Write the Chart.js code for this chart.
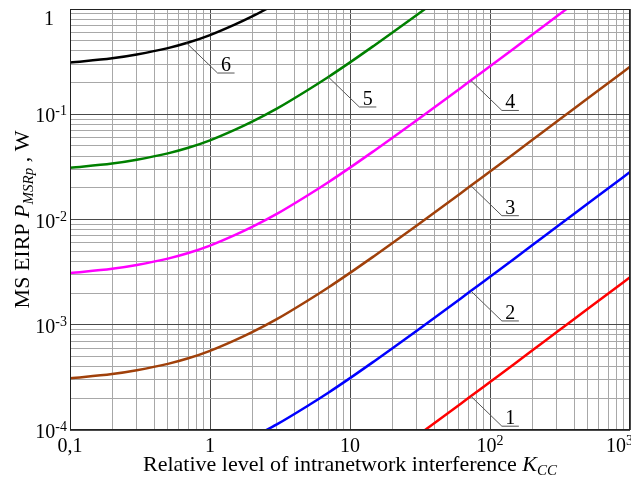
<!DOCTYPE html>
<html>
<head>
<meta charset="utf-8">
<script src="https://cdn.jsdelivr.net/npm/chart.js@4/dist/chart.umd.min.js"></script>
<style>
  html, body { margin: 0; padding: 0; background: #fff; }
</style>
</head>
<body>
<canvas id="eirpChart" width="631" height="481"></canvas>
<script>
// Relative level of intranetwork interference K_CC (x axis)
const kValues = [0.1, 0.2, 0.3, 0.5, 0.7, 1, 1.5, 2, 3, 5, 7, 10, 15, 20, 30, 50, 70, 100, 150, 200, 300, 500, 700, 1000];

// MS EIRP P_MSRp, W  (null = outside the plot)
const curve1 = [null, null, null, null, null, null, null, null, null, null, null, null, null,
  5.94e-5, 8.77e-5, 1.44e-4, 2.01e-4, 2.86e-4, 4.27e-4, 5.69e-4, 8.52e-4, 1.42e-3, 1.98e-3, 2.83e-3];
const curve2 = [null, null, null, null, null, null, null,
  8.5e-5, 1.13e-4, 1.7e-4, 2.26e-4, 3.11e-4, 4.53e-4, 5.94e-4, 8.77e-4, 1.44e-3, 2.01e-3, 2.86e-3,
  4.27e-3, 5.69e-3, 8.52e-3, 0.0142, 0.0198, 0.0283];
const curve3 = [3.1e-4, 3.4e-4, 3.7e-4, 4.25e-4, 4.8e-4, 5.65e-4, 7.1e-4, 8.5e-4, 1.13e-3, 1.7e-3,
  2.26e-3, 3.11e-3, 4.53e-3, 5.94e-3, 8.77e-3, 0.0144, 0.0201, 0.0286, 0.0427, 0.0569, 0.0852, 0.142, 0.198, 0.283];
const curve4 = [0.0031, 0.0034, 0.0037, 0.00425, 0.0048, 0.00565, 0.0071, 0.0085, 0.0113, 0.017,
  0.0226, 0.0311, 0.0453, 0.0594, 0.0877, 0.144, 0.201, 0.286, 0.427, 0.569, 0.852, 1.42, null, null];
const curve5 = [0.031, 0.034, 0.037, 0.0425, 0.048, 0.0565, 0.071, 0.085, 0.113, 0.17,
  0.226, 0.311, 0.453, 0.594, 0.877, 1.44, null, null, null, null, null, null, null, null];
const curve6 = [0.31, 0.34, 0.37, 0.425, 0.48, 0.565, 0.71, 0.85, 1.13,
  null, null, null, null, null, null, null, null, null, null, null, null, null, null, null];

const curves = [curve1, curve2, curve3, curve4, curve5, curve6];
const curveNames = ['1', '2', '3', '4', '5', '6'];
const curveColors = ['#ff0000', '#0000ff', '#a0400a', '#ff00ff', '#008000', '#000000'];
// K where each number's leader line touches its curve
const labelK = [73, 73, 73, 73, 7, 0.68];

// axis tick labels: [base, exponent]
const xTickValues = [0.1, 1, 10, 100, 1000];
const xTickLabels = [['0,1', ''], ['1', ''], ['10', ''], ['10', '2'], ['10', '3']];
const yTickValues = [1, 0.1, 0.01, 0.001, 0.0001];
const yTickLabels = [['1', ''], ['10', '-1'], ['10', '-2'], ['10', '-3'], ['10', '-4']];

const FONT = "'Liberation Serif', 'Times New Roman', serif";
const majorGrid = '#4a4a4a';
const minorGrid = '#a8a8a8';

// grid lines at 1..9 in every decade
function decadeGrid(lo, hi) {
  const out = [];
  for (let d = lo; d < hi * 0.999; d *= 10) {
    for (let m = 1; m < 10; m++) out.push(+(m * d).toPrecision(6));
  }
  out.push(hi);
  return out;
}
const isDecade = v => Math.abs(Math.log10(v) - Math.round(Math.log10(v))) < 1e-9;

// value of a curve at K, interpolated in log-log space
function curveAt(arr, k) {
  for (let i = 0; i < kValues.length - 1; i++) {
    if (k >= kValues[i] && k <= kValues[i + 1] && arr[i] != null && arr[i + 1] != null) {
      const t = (Math.log(k) - Math.log(kValues[i])) / (Math.log(kValues[i + 1]) - Math.log(kValues[i]));
      return Math.exp(Math.log(arr[i]) + t * (Math.log(arr[i + 1]) - Math.log(arr[i])));
    }
  }
  return null;
}

// draw a run of text pieces; each piece {t, f, dy}
function richWidth(ctx, parts) {
  let w = 0;
  parts.forEach(p => { ctx.font = p.f; w += ctx.measureText(p.t).width; });
  return w;
}
function drawRich(ctx, parts, x, y) {
  let cx = x;
  parts.forEach(p => {
    ctx.font = p.f;
    ctx.fillText(p.t, cx, y + (p.dy || 0));
    cx += ctx.measureText(p.t).width;
  });
}

const decorPlugin = {
  id: 'decor',
  afterDatasetsDraw(chart) {
    const { ctx, chartArea: a, scales: { x, y } } = chart;
    ctx.save();
    ctx.fillStyle = '#000';
    ctx.textAlign = 'left';
    ctx.textBaseline = 'alphabetic';

    // frame
    ctx.strokeStyle = '#222';
    ctx.lineWidth = 1;
    ctx.strokeRect(a.left + 0.5, a.top + 0.5, a.right - a.left - 1, a.bottom - a.top - 1);

    // curve numbers with leader lines
    ctx.strokeStyle = '#555';
    curves.forEach((arr, i) => {
      const v = curveAt(arr, labelK[i]);
      if (v == null) return;
      const px = x.getPixelForValue(labelK[i]);
      const py = y.getPixelForValue(v);
      ctx.beginPath();
      ctx.moveTo(px, py);
      ctx.lineTo(px + 31, py + 30);
      ctx.lineTo(px + 48, py + 30);
      ctx.stroke();
      ctx.font = '20px ' + FONT;
      ctx.textAlign = 'center';
      ctx.fillText(curveNames[i], px + 39.5, py + 28);
      ctx.textAlign = 'left';
    });

    const base = '20px ' + FONT;
    const sup = '14px ' + FONT;

    // x tick labels, whole label centred on its tick
    xTickValues.forEach((v, i) => {
      const px = x.getPixelForValue(v);
      const [b, e] = xTickLabels[i];
      const parts = [{ t: b, f: base }];
      if (e) parts.push({ t: e, f: sup, dy: -7 });
      const w = richWidth(ctx, parts);
      const left = Math.min(px - w / 2, 633 - w);
      drawRich(ctx, parts, left, 452);
    });

    // y tick labels
    yTickValues.forEach((v, i) => {
      const py = y.getPixelForValue(v);
      const [b, e] = yTickLabels[i];
      if (!e) {
        ctx.font = base;
        ctx.textAlign = 'center';
        ctx.fillText(b, a.left - 21, Math.max(py + 8, 25));
        ctx.textAlign = 'left';
        return;
      }
      const parts = [{ t: b, f: base }, { t: e, f: sup, dy: -7 }];
      const w = richWidth(ctx, parts);
      drawRich(ctx, parts, a.left - 3 - w, py + 8);
    });

    // x axis title
    const tf = '22px ' + FONT;
    const sf = 'italic 15px ' + FONT;
    const xt = [
      { t: 'Relative level of intranetwork interference ', f: tf },
      { t: 'K', f: 'italic ' + tf },
      { t: 'CC', f: sf, dy: 4 }
    ];
    const xw = richWidth(ctx, xt);
    drawRich(ctx, xt, (a.left + a.right) / 2 - xw / 2, 471);

    // y axis title (rotated)
    const yt = [
      { t: 'MS EIRP ', f: tf },
      { t: 'P', f: 'italic ' + tf },
      { t: 'MSRp', f: sf, dy: 4 },
      { t: ' , W', f: tf }
    ];
    const yw = richWidth(ctx, yt);
    ctx.translate(29, (a.top + a.bottom) / 2);
    ctx.rotate(-Math.PI / 2);
    drawRich(ctx, yt, -yw / 2, 0);
    ctx.restore();
  }
};

const datasets = curves.map((arr, i) => ({
  label: curveNames[i],
  data: kValues.map((k, j) => ({ x: k, y: arr[j] })),
  borderColor: curveColors[i],
  borderWidth: 2.5,
  pointRadius: 0,
  cubicInterpolationMode: 'monotone',
  clip: 0
}));

const gridOpts = {
  color: c => (c.tick && isDecade(c.tick.value) ? majorGrid : minorGrid),
  lineWidth: 1,
  drawTicks: false
};

new Chart(document.getElementById('eirpChart'), {
  type: 'line',
  data: { datasets },
  options: {
    responsive: false,
    animation: false,
    layout: { padding: { left: 70, top: 9, right: 1, bottom: 51 } },
    plugins: { legend: { display: false }, tooltip: { enabled: false } },
    scales: {
      x: {
        type: 'logarithmic', min: 0.1, max: 1000,
        afterBuildTicks: s => { s.ticks = decadeGrid(0.1, 1000).map(v => ({ value: v })); },
        ticks: { display: false },
        grid: gridOpts,
        border: { display: false }
      },
      y: {
        type: 'logarithmic', min: 0.0001, max: 1,
        afterBuildTicks: s => { s.ticks = decadeGrid(0.0001, 1).map(v => ({ value: v })); },
        ticks: { display: false },
        grid: gridOpts,
        border: { display: false }
      }
    }
  },
  plugins: [decorPlugin]
});
</script>
</body>
</html>
